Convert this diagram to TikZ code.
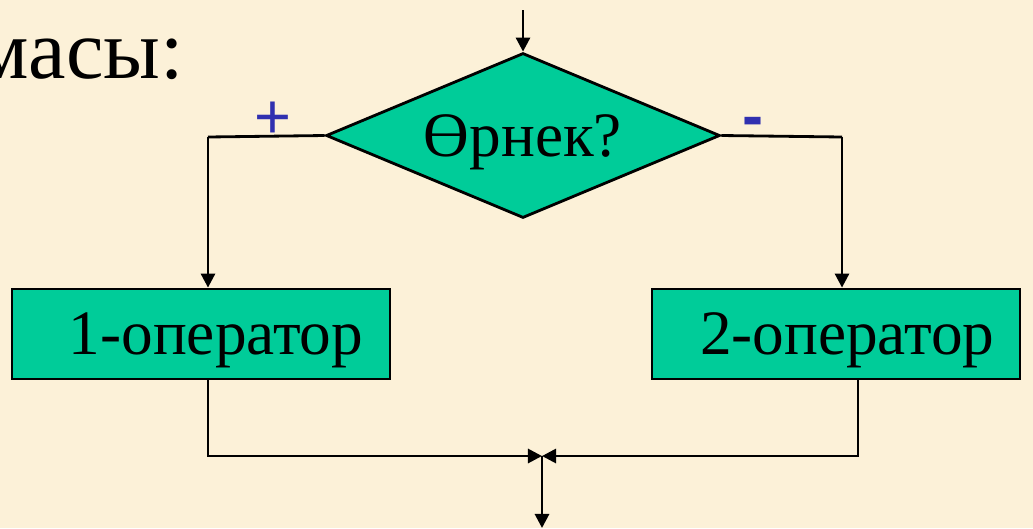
\documentclass[tikz,border=0pt]{standalone}
\usepackage{fontspec}
\setmainfont{Liberation Serif}
\newfontfamily\labelfont{Liberation Sans}
\usetikzlibrary{shapes.geometric, arrows.meta}

\definecolor{paper}{RGB}{252,241,216}
\definecolor{boxgreen}{RGB}{0,204,153}
\definecolor{signblue}{RGB}{48,48,176}

\begin{document}
\begin{tikzpicture}[x=0.02cm, y=-0.02cm, line width=1.6pt,
    flow/.style={-{Triangle[width=8pt, length=8pt]}},
    opbox/.style={draw, fill=boxgreen, rectangle, minimum height=1.8cm,
      inner sep=0pt, text depth=0pt, font=\fontsize{36}{40}\selectfont},
    cond/.style={draw, fill=boxgreen, diamond, aspect=2.4, inner sep=0pt, text depth=0pt,
      minimum width=7.88cm, minimum height=3.3cm, font=\fontsize{36}{40}\selectfont},
    sign/.style={text=signblue, font=\labelfont\fontsize{36}{40}\selectfont}]
        % Background and frame
        \fill[paper] (0,0) rectangle (1033,528);
        \useasboundingbox (0,0) rectangle (1033,528);

        % Title fragment
        \node[anchor=base east, inner sep=0pt, font=\fontsize{48}{54}\selectfont] (title) at (185,78) {масы:};

        % Define coordinates
        \coordinate (entry) at (523,10);
        \coordinate (left_turn) at (208,137);
        \coordinate (right_turn) at (842,137);
        \coordinate (left_out) at (208,380);
        \coordinate (right_out) at (858,380);
        \coordinate (merge) at (542,456);
        \coordinate (exit) at (542,528);

        % Draw the condition and the two operators
        \node[cond] (test) at (523,135.5) {Өрнек?};
        \node[opbox, minimum width=7.56cm] (op_one) at (201,334) {\hspace*{0.6cm}1-оператор};
        \node[opbox, minimum width=7.36cm] (op_two) at (836,334) {\hspace*{0.45cm}2-оператор};

        % Branch labels
        \node[sign] (plus) at (273,120) {+};
        \node[sign, font=\labelfont\bfseries\fontsize{36}{40}\selectfont] (minus) at (753,127) {-};

        % Draw branches
        \draw[flow] (entry) -- (test.north);
        \draw (test.west) -- (left_turn);
        \draw[flow] (left_turn) -- (left_turn |- op_one.north);
        \draw (test.east) -- (right_turn);
        \draw[flow] (right_turn) -- (right_turn |- op_two.north);

        % Join the branches
        \draw[flow] (left_out |- op_one.south) |- (merge);
        \draw[flow] (right_out |- op_two.south) |- (merge);
        \draw[flow] (merge) -- (exit);
      \end{tikzpicture}
\end{document}
